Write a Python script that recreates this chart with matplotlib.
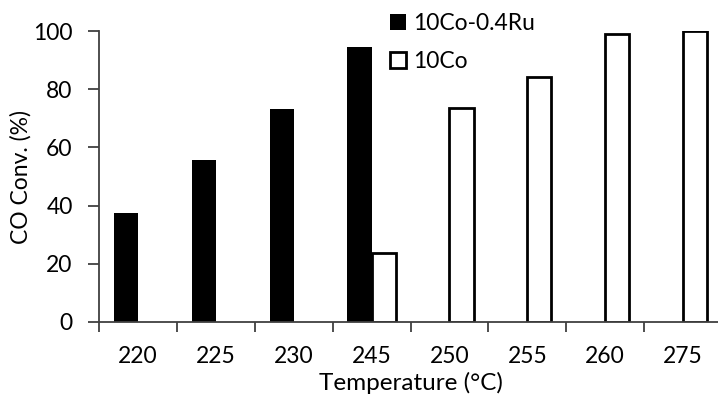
import matplotlib
matplotlib.use("Agg")
import matplotlib.pyplot as plt
import numpy as np

# data
temps = ["220", "225", "230", "245", "250", "255", "260", "275"]
conv_ru = [37.3, 55.8, 73.3, 94.4, None, None, None, None]   # 10Co-0.4Ru
conv_co = [None, None, None, 23.6, 73.4, 84.2, 99.1, 100.0]  # 10Co

plt.rcParams['font.family'] = ['Lato', 'DejaVu Sans']
fs = 16.5

fig = plt.figure(figsize=(7.18, 3.98), dpi=100)
ax = fig.add_axes([0.1379, 0.191, 0.8677, 0.731])

x = np.arange(len(temps))
w = 0.31
xr = [i for i, v in zip(x, conv_ru) if v is not None]
yr = [v for v in conv_ru if v is not None]
xc = [i for i, v in zip(x, conv_co) if v is not None]
yc = [v for v in conv_co if v is not None]

ax.bar(np.array(xr) - w / 2, yr, w, color='black', label='10Co-0.4Ru')
ax.bar(np.array(xc) + w / 2, yc, w, facecolor='white', edgecolor='black',
       linewidth=2, label='10Co')

ax.set_xlim(-0.5, len(temps) - 0.5)
ax.set_ylim(0, 100)
ax.set_yticks([0, 20, 40, 60, 80, 100])
ax.set_xticks(x)
ax.set_xticklabels(temps)
ax.set_xticks(np.arange(-0.5, len(temps)), minor=True)

ax.tick_params(axis='x', which='major', length=0, pad=17, labelsize=fs)
ax.tick_params(axis='x', which='minor', length=7, width=1.3, direction='out', color='#404040')
ax.tick_params(axis='y', length=8, width=1.3, direction='out', pad=11, labelsize=fs, color='#404040')

for s in ['top', 'right']:
    ax.spines[s].set_visible(False)
for s in ['left', 'bottom']:
    ax.spines[s].set_color('#404040')
    ax.spines[s].set_linewidth(1.3)

ax.set_ylabel("CO Conv. (%)", fontsize=16.5, labelpad=1)
ax.set_xlabel("Temperature (°C)", fontsize=17.5, labelpad=4)

fig.legend(loc='upper left', bbox_to_anchor=(381 / 718, 1 - 4 / 398),
           frameon=False, fontsize=fs, handlelength=0.7, handleheight=0.7,
           handletextpad=0.3, labelspacing=0.75, borderaxespad=0)

fig.savefig("out.png", dpi=100)
